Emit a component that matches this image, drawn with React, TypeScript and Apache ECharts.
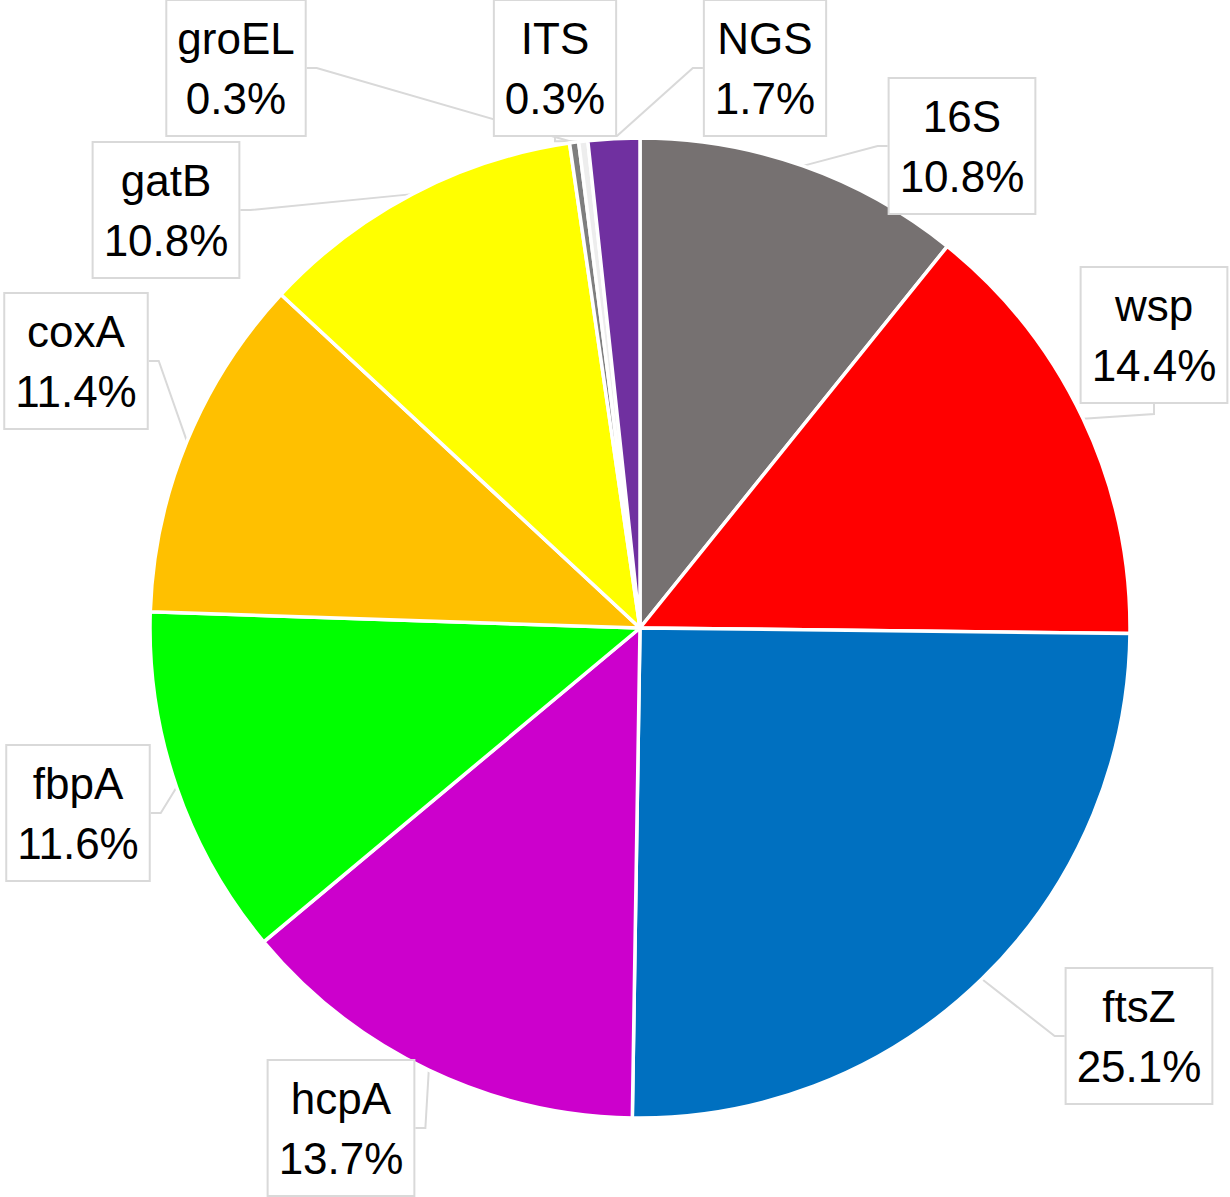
import React, { useEffect, useRef } from "react";
import * as echarts from "echarts";

const categories = ["16S", "wsp", "ftsZ", "hcpA", "fbpA", "coxA", "gatB", "groEL", "ITS", "NGS"];
const values = [10.8, 14.4, 25.1, 13.7, 11.6, 11.4, 10.8, 0.3, 0.3, 1.7];
const colors = ["#767171", "#FF0000", "#0070C0", "#CC00CC", "#00FF00", "#FFC000", "#FFFF00", "#7F7F7F", "#EDEDED", "#7030A0"];
// label box centres (layout only)
const labelCenters: [number, number][] = [
  [962, 146], [1154, 335], [1139, 1036], [341, 1128], [78, 813],
  [76, 361], [166, 210], [236, 68], [555, 68], [765, 68],
];

export default function App() {
  const ref = useRef<HTMLDivElement>(null);
  useEffect(() => {
    document.body.style.margin = "0";
    const chart = echarts.init(ref.current!, null, { renderer: "svg" });
    chart.setOption({
      animation: false,
      backgroundColor: "#ffffff",
      series: [
        {
          type: "pie",
          center: [640, 628],
          radius: 490,
          startAngle: 90,
          clockwise: true,
          avoidLabelOverlap: false,
          data: categories.map((n, i) => ({
            name: n,
            value: values[i],
            itemStyle: { color: colors[i] },
          })),
          itemStyle: { borderColor: "#ffffff", borderWidth: 3.5 },
          label: {
            show: true,
            position: "outside",
            formatter: (p: any) => `${p.name}\n${p.value.toFixed(1)}%`,
            fontFamily: "Liberation Sans, Arial, sans-serif",
            fontSize: 44,
            lineHeight: 60,
            color: "#000000",
            align: "center",
            backgroundColor: "#ffffff",
            borderColor: "#D9D9D9",
            borderWidth: 2,
            padding: [7, 10, 7, 10],
          },
          labelLine: {
            show: true,
            length: 10,
            length2: 10,
            lineStyle: { color: "#D9D9D9", width: 2 },
          },
          labelLayout: (params: any) => {
            const c = labelCenters[params.dataIndex];
            return { x: c[0], y: c[1], align: "center", verticalAlign: "middle" };
          },
        },
      ],
    });
    return () => chart.dispose();
  }, []);
  return <div ref={ref} style={{ width: 1230, height: 1197 }} />;
}
